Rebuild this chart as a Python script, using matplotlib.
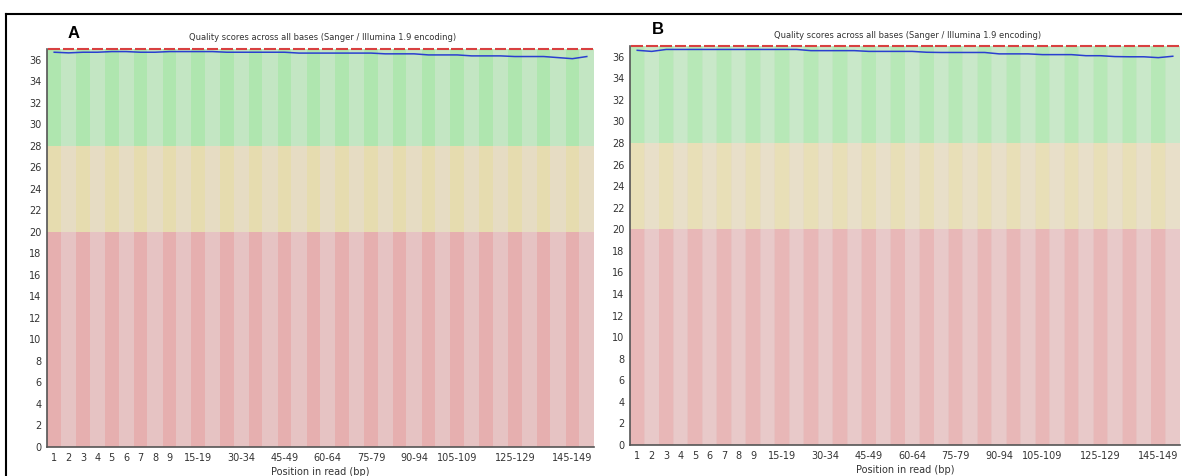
import numpy as np
import matplotlib
matplotlib.use("Agg")
import matplotlib.pyplot as plt
from matplotlib.lines import Line2D

# bins of the FastQC per-base quality plot
bins = [str(i) for i in range(1, 10)] + ["%d-%d" % (s, s + 4) for s in range(10, 150, 5)] + ["150-151"]
shown = ["1", "2", "3", "4", "5", "6", "7", "8", "9", "15-19", "30-34", "45-49",
         "60-64", "75-79", "90-94", "105-109", "125-129", "145-149"]

median_a = [37] * 38
median_b = [37] * 38

mean_a = [36.70, 36.64, 36.70, 36.70, 36.76, 36.76, 36.70, 36.70, 36.76, 36.76,
          36.76, 36.76, 36.70, 36.70, 36.70, 36.70, 36.70, 36.62, 36.62, 36.62,
          36.62, 36.62, 36.62, 36.55, 36.55, 36.55, 36.45, 36.45, 36.45, 36.36,
          36.36, 36.36, 36.30, 36.30, 36.30, 36.20, 36.10, 36.30]
mean_b = [36.60, 36.50, 36.68, 36.68, 36.68, 36.68, 36.68, 36.68, 36.68, 36.68,
          36.68, 36.68, 36.57, 36.57, 36.57, 36.57, 36.50, 36.50, 36.50, 36.50,
          36.42, 36.40, 36.40, 36.40, 36.40, 36.27, 36.27, 36.27, 36.20, 36.20,
          36.20, 36.10, 36.10, 36.02, 36.00, 36.00, 35.92, 36.05]

title = "Quality scores across all bases (Sanger / Illumina 1.9 encoding)"

# quality zones: (bottom, top)
zones = [(0, 20), (20, 28), (28, 37)]
GOOD = ["#afe6af", "#c3e6c3"]
OK = ["#e6dcaf", "#e6dcc3"]
BAD = ["#e6afaf", "#e6c3c3"]


def draw(ax, mean, median, light=False):
    n = len(bins)
    x = np.arange(n)
    cols = [BAD, OK, GOOD]
    for (lo, hi), c in zip(zones, cols):
        for i in range(n):
            ax.bar(x[i], hi - lo, bottom=lo, width=1.06, color=c[i % 2], linewidth=0,
                   alpha=0.9 if light else 1.0, zorder=1 + (i % 2) * 0.1)
    ax.hlines(median, x - 0.4, x + 0.4, color="#d84040", lw=1.5, clip_on=False, zorder=3)
    ax.plot(x, mean, color="#2a3fd0", lw=1.1, zorder=4)
    ax.set_xlim(-0.5, n - 0.5)
    ax.set_ylim(0, 37)
    ax.set_yticks(range(0, 37, 2))
    ticks = [bins.index(s) for s in shown]
    ax.set_xticks(ticks)
    ax.set_xticklabels(shown)
    ax.tick_params(length=0, labelsize=7, colors="#333333", pad=4)
    for s in ["top", "right"]:
        ax.spines[s].set_visible(False)
    for s in ["left", "bottom"]:
        ax.spines[s].set_color("#555555")
        ax.spines[s].set_linewidth(1.2)
        ax.spines[s].set_zorder(5)
    ax.set_xlabel("Position in read (bp)", fontsize=7, color="#333333", labelpad=3)


fig = plt.figure(figsize=(11.82, 4.76), dpi=100)
ax1 = fig.add_axes([47 / 1182, 29 / 476, 547 / 1182, 398 / 476])
ax2 = fig.add_axes([630 / 1182, 31 / 476, 550 / 1182, 399 / 476])
draw(ax1, mean_a, median_a)
draw(ax2, mean_b, median_b, light=True)

fig.text(323 / 1182, 1 - 38 / 476, title, ha="center", va="center", fontsize=6.0, color="#333333")
fig.text(908 / 1182, 1 - 35 / 476, title, ha="center", va="center", fontsize=6.0, color="#333333")
fig.text(68 / 1182, 1 - 34 / 476, "A", ha="left", va="center", fontsize=12, fontweight="bold",
         family="Liberation Sans")
fig.text(652 / 1182, 1 - 30 / 476, "B", ha="left", va="center", fontsize=12, fontweight="bold",
         family="Liberation Sans")

# outer frame lines
fig.add_artist(Line2D([6 / 1182, 1], [1 - 13.5 / 476, 1 - 13.5 / 476], color="black", lw=1.5))
fig.add_artist(Line2D([6 / 1182, 6 / 1182], [0, 1 - 13.5 / 476], color="black", lw=1.5))

fig.savefig("out.png", dpi=100)
